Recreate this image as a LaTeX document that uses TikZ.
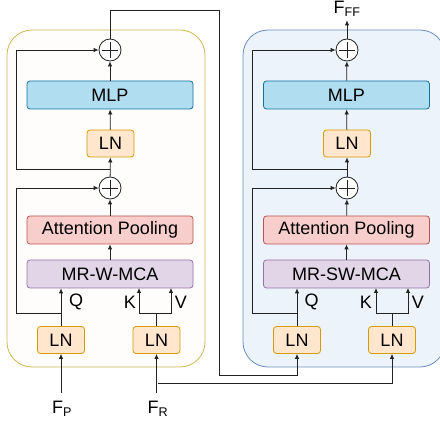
\documentclass[tikz,border=0pt]{standalone}
\usepackage{fontspec}
\setmainfont{Liberation Sans}
\usetikzlibrary{arrows.meta,positioning,calc}
\definecolor{lnFill}{HTML}{FFE6CC}
\definecolor{lnLine}{HTML}{D79B00}
\definecolor{mlpFill}{HTML}{B1DDF0}
\definecolor{mlpLine}{HTML}{10739E}
\definecolor{attnFill}{HTML}{F8CECC}
\definecolor{attnLine}{HTML}{B85450}
\definecolor{mcaFill}{HTML}{E1D5E7}
\definecolor{mcaLine}{HTML}{9673A6}
\definecolor{leftFill}{HTML}{FEFDFC}
\definecolor{leftLine}{HTML}{D6B656}
\definecolor{rightFill}{HTML}{ECF3FA}
\definecolor{rightLine}{HTML}{6C8EBF}
\definecolor{wire}{HTML}{222222}
\tikzstyle{lnBox}  =[draw=lnLine,fill=lnFill,rounded corners=3pt,minimum width=47pt,minimum height=27pt,inner sep=0pt]
\tikzstyle{wideBox}=[rounded corners=3pt,minimum width=166pt,minimum height=28pt,inner sep=0pt]
\tikzstyle{mlpBox} =[wideBox,draw=mlpLine,fill=mlpFill]
\tikzstyle{attnBox}=[wideBox,draw=attnLine,fill=attnFill]
\tikzstyle{mcaBox} =[wideBox,draw=mcaLine,fill=mcaFill]
\tikzstyle{addNode}=[draw=wire,fill=white,circle,minimum size=22pt,inner sep=0pt,
  path picture={\draw[wire] ($(path picture bounding box.west)+(3pt,0)$) -- ($(path picture bounding box.east)-(3pt,0)$)
    ($(path picture bounding box.north)-(0,3pt)$) -- ($(path picture bounding box.south)+(0,3pt)$);}]
\tikzstyle{flow}   =[draw=wire,-{Latex[length=5pt,width=4.5pt]}]

\begin{document}
\begin{tikzpicture}[x=1pt,y=-1pt,line width=0.8pt,font=\fontsize{18}{20}\selectfont]
\useasboundingbox (0,0) rectangle (440,425);
% containers
\draw[leftLine,fill=leftFill,rounded corners=25pt] (7,30) rectangle (205,367);
\draw[rightLine,fill=rightFill,rounded corners=25pt] (243,30) rectangle (445,367);

% left block
\node [addNode] (plusT) at (110,50) {};
\node [mlpBox]  (mlp)   at (110,95) {MLP};
\node [lnBox]   (lnT)   at (110.5,143.5) {LN};
\node [addNode] (plusB) at (110,188) {};
\node [attnBox] (attn)  at (110,230) {Attention Pooling};
\node [mcaBox]  (mca)   at (110,274) {MR-W-MCA};
\node [lnBox]   (lnQ)   at (61,340) {LN};
\node [lnBox]   (lnKV)  at (156.5,340) {LN};
\node (q)  at (76,302) {Q};
\node (k)  at (130,302) {K};
\node (v)  at (181,302) {V};
\node (fp) at (62,409) {F\textsubscript{P}};
\node (fr) at (158,409) {F\textsubscript{R}};

% right block
\node [addNode] (plusT2) at (347,50) {};
\node [mlpBox]  (mlp2)   at (346.5,95) {MLP};
\node [lnBox]   (lnT2)   at (347,143.5) {LN};
\node [addNode] (plusB2) at (347,188) {};
\node [attnBox] (attn2)  at (346.5,230) {Attention Pooling};
\node [mcaBox]  (mca2)   at (346.5,274) {MR-SW-MCA};
\node [lnBox]   (lnQ2)   at (297,340) {LN};
\node [lnBox]   (lnKV2)  at (392,340) {LN};
\node (q2)  at (311.5,302) {Q};
\node (k2)  at (366,302) {K};
\node (v2)  at (418,302) {V};
\node (fff) at (347,9) {F\textsubscript{FF}};

% junctions and bends
\coordinate (jQ)    at (61,313);
\coordinate (jKV)   at (156.5,313);
\coordinate (kIn)   at (139,288);
\coordinate (vIn)   at (171,288);
\coordinate (railB) at (16,313);
\coordinate (jT)    at (110,169);
\coordinate (railT) at (16,169);
\coordinate (jQ2)    at (297,313);
\coordinate (jKV2)   at (392,313);
\coordinate (kIn2)   at (376,288);
\coordinate (vIn2)   at (408,288);
\coordinate (railB2) at (252,313);
\coordinate (jT2)    at (347,169);
\coordinate (railT2) at (252,169);
\coordinate (turnA) at (219,10);
\coordinate (busP)  at (219,375);
\coordinate (busR)  at (158,383);

% left wires
\draw[flow] ([yshift=5pt]fp.north -| lnQ.south) -- (lnQ.south);
\draw[flow] ([yshift=5pt]fr.north -| lnKV.south) -- (lnKV.south);
\draw[flow] (lnQ.north) -- (lnQ.north |- mca.south);
\draw[wire] (lnKV.north) -- (jKV);
\draw[flow] (jKV) -| (kIn);
\draw[flow] (jKV) -| (vIn);
\draw[flow] (mca) -- (attn);
\draw[flow] (attn) -- (plusB);
\draw[flow] (plusB) -- (lnT);
\draw[flow] (lnT) -- (mlp);
\draw[flow] (mlp) -- (plusT);
\draw[flow] (jQ) -- (railB) |- (plusB.west);
\draw[flow] (jT) -- (railT) |- (plusT.west);

% right wires
\draw[flow] (plusT.north) |- (turnA) -- (busP) -| (lnQ2.south);
\draw[flow] (busR) -| (lnKV2.south);
\draw[flow] (lnQ2.north) -- (lnQ2.north |- mca2.south);
\draw[wire] (lnKV2.north) -- (jKV2);
\draw[flow] (jKV2) -| (kIn2);
\draw[flow] (jKV2) -| (vIn2);
\draw[flow] (mca2) -- (attn2);
\draw[flow] (attn2) -- (plusB2);
\draw[flow] (plusB2) -- (lnT2);
\draw[flow] (lnT2) -- (mlp2);
\draw[flow] (mlp2) -- (plusT2);
\draw[flow] (jQ2) -- (railB2) |- (plusB2.west);
\draw[flow] (jT2) -- (railT2) |- (plusT2.west);
\draw[flow] (plusT2.north) -- (fff.south -| plusT2.north);
\end{tikzpicture}
\end{document}
